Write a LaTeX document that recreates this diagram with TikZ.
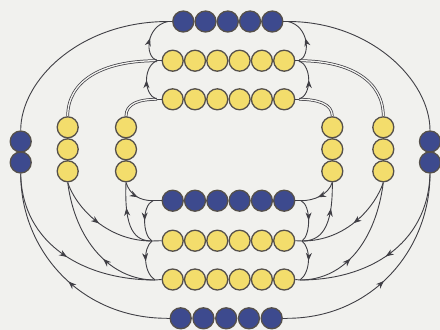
\documentclass[tikz,border=0pt]{standalone}
\usetikzlibrary{arrows.meta,decorations.markings}
\definecolor{bead}{HTML}{3D4A8E}
\definecolor{yolk}{HTML}{F3DD6C}
\definecolor{rim}{HTML}{55504B}
\definecolor{wire}{HTML}{403F45}
\definecolor{paper}{HTML}{F1F1EE}

\begin{document}
\begin{tikzpicture}[x=1pt,y=-1pt,
  bluebead/.style={circle,draw=rim,line width=1.3pt,fill=bead,minimum size=21pt,inner sep=0pt},
  yellowbead/.style={bluebead,fill=yolk},
  wireline/.style={draw=wire,line width=0.9pt},
  pairline/.style={draw=wire,double=paper,double distance=1.3pt,line width=0.75pt},
  midarrow/.style={postaction={decorate,decoration={markings,
    mark=at position #1 with {\arrow{Stealth[length=8pt,width=6pt,inset=2.5pt]}}}}},
  midarrow/.default=0.5]
  \fill[paper] (0,0) rectangle (440,330);
  \useasboundingbox (0,0) rectangle (440,330);

  % horizontal rows of beads
  \foreach \i in {1,...,5} {
    \node[bluebead] (tb\i) at ({183.3+22.25*(\i-1)},21.5) {};
    \node[bluebead] (bb\i) at ({180.7+22.75*(\i-1)},318.3) {};
  }
  \foreach \i in {1,...,6} {
    \node[yellowbead] (ya\i) at ({172.7+22.3*(\i-1)},60.7) {};
    \node[yellowbead] (yb\i) at ({172.7+22.3*(\i-1)},99.3) {};
    \node[bluebead]   (mb\i) at ({172.7+22.3*(\i-1)},200.7) {};
    \node[yellowbead] (yc\i) at ({172.7+22.3*(\i-1)},240.7) {};
    \node[yellowbead] (yd\i) at ({172.7+22.3*(\i-1)},279.5) {};
  }

  % vertical columns of beads
  \foreach \i/\y in {1/141.5, 2/162.5} {
    \node[bluebead] (lb\i) at (20.7,\y) {};
    \node[bluebead] (rb\i) at (430,\y) {};
  }
  \foreach \i/\y in {1/127.3, 2/149.3, 3/171.3} {
    \node[yellowbead] (lo\i) at (67.7,\y) {};
    \node[yellowbead] (li\i) at (126,\y) {};
    \node[yellowbead] (ri\i) at (332.3,\y) {};
    \node[yellowbead] (ro\i) at (383.3,\y) {};
  }

  % junctions at the row ends
  \coordinate (jtb-l) at (168,21.5);   \coordinate (jtb-r) at (288,21.5);
  \coordinate (jya-l) at (157,60.7);   \coordinate (jya-r) at (299,60.7);
  \coordinate (jyb-l) at (157,99.3);   \coordinate (jyb-r) at (299,99.3);
  \coordinate (jmb-l) at (153,200.7);  \coordinate (jmb-r) at (301,200.7);
  \coordinate (jyc-l) at (152,241);    \coordinate (jyc-r) at (302,241);
  \coordinate (jyd-l) at (155,280);    \coordinate (jyd-r) at (300,280);
  \coordinate (jbb-l) at (167,318.3);  \coordinate (jbb-r) at (287,318.3);

  % stubs into the rows
  \draw[wireline] (jtb-l) -- (tb1.west);  \draw[wireline] (jtb-r) -- (tb5.east);
  \draw[wireline] (jya-l) -- (ya1.west);  \draw[wireline] (jya-r) -- (ya6.east);
  \draw[wireline] (jyb-l) -- (yb1.west);  \draw[wireline] (jyb-r) -- (yb6.east);
  \draw[wireline] (jmb-l) -- (mb1.west);  \draw[wireline] (jmb-r) -- (mb6.east);
  \draw[wireline] (jyc-l) -- (yc1.west);  \draw[wireline] (jyc-r) -- (yc6.east);
  \draw[wireline] (jyd-l) -- (yd1.west);  \draw[wireline] (jyd-r) -- (yd6.east);
  \draw[wireline] (jbb-l) -- (bb1.west);  \draw[wireline] (jbb-r) -- (bb5.east);

  % upper half, left
  \draw[wireline] (lb1.north) .. controls (20.7,80) and (80,21.5) .. (jtb-l);
  \draw[pairline] (lo1.north) .. controls (67.7,82) and (100,60.7) .. (jya-l);
  \draw[pairline] (li1.north) .. controls (126,104) and (138,99.3) .. (jyb-l);
  \draw[wireline,midarrow] (jyb-l) .. controls (143,95) and (143,66) .. (jya-l);
  \draw[wireline,midarrow] (jya-l) .. controls (144,56) and (146,26) .. (jtb-l);

  % upper half, right
  \draw[wireline] (rb1.north) .. controls (430,80) and (370,21.5) .. (jtb-r);
  \draw[pairline] (ro1.north) .. controls (383.3,82) and (352,60.7) .. (jya-r);
  \draw[pairline] (ri1.north) .. controls (332.3,104) and (318,99.3) .. (jyb-r);
  \draw[wireline,midarrow] (jyb-r) .. controls (312,95) and (312,66) .. (jya-r);
  \draw[wireline,midarrow] (jya-r) .. controls (311,56) and (309,26) .. (jtb-r);

  % lower half, left
  \draw[wireline,midarrow=0.47] (jbb-l) .. controls (80,318.3) and (20.7,250) .. (lb2.south);
  \draw[wireline,midarrow=0.52] (lb2.south) .. controls (22,245) and (85,280) .. (jyd-l);
  \draw[wireline,midarrow=0.48] (lo3.south) .. controls (75,205) and (105,241) .. (jyc-l);
  \draw[wireline,midarrow=0.4] (jyd-l) .. controls (110,280) and (75,240) .. (lo3.south);
  \draw[wireline,midarrow=0.55] (li3.south) .. controls (130,195) and (140,200.7) .. (jmb-l);
  \draw[wireline,midarrow=0.65] (jyc-l) .. controls (135,241) and (124,230) .. (li3.south);
  \draw[wireline,midarrow] (jmb-l) .. controls (142,205) and (142,235) .. (jyc-l);
  \draw[wireline,midarrow] (jyc-l) .. controls (143,248) and (143,272) .. (jyd-l);

  % lower half, right
  \draw[wireline,midarrow=0.47] (jbb-r) .. controls (372,318.3) and (430,250) .. (rb2.south);
  \draw[wireline,midarrow=0.52] (rb2.south) .. controls (428,245) and (368,280) .. (jyd-r);
  \draw[wireline,midarrow=0.48] (ro3.south) .. controls (376,205) and (348,241) .. (jyc-r);
  \draw[wireline,midarrow=0.4] (jyd-r) .. controls (345,280) and (376,240) .. (ro3.south);
  \draw[wireline,midarrow=0.55] (ri3.south) .. controls (328,195) and (314,200.7) .. (jmb-r);
  \draw[wireline,midarrow=0.65] (jyc-r) .. controls (320,241) and (333,230) .. (ri3.south);
  \draw[wireline,midarrow] (jmb-r) .. controls (311,205) and (311,235) .. (jyc-r);
  \draw[wireline,midarrow] (jyc-r) .. controls (311,248) and (311,272) .. (jyd-r);
\end{tikzpicture}
\end{document}
